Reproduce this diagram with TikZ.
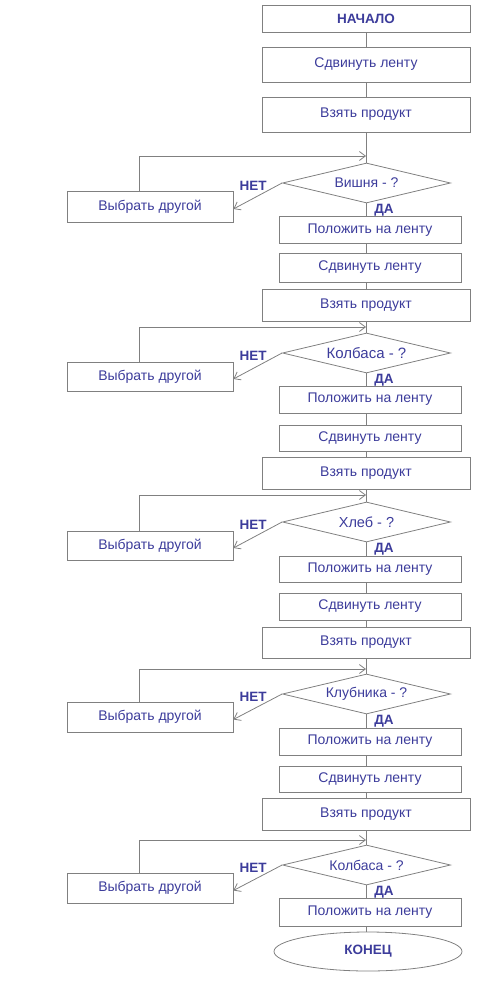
\documentclass[tikz,border=0pt]{standalone}
\usepackage{fontspec}
\setmainfont{Liberation Sans}
\usetikzlibrary{shapes.geometric,arrows.meta}
\definecolor{txtblue}{RGB}{60,60,155}
\definecolor{linegray}{RGB}{128,128,128}
\begin{document}
\begin{tikzpicture}[x=1pt,y=-1pt,
  every node/.style={text=txtblue, font=\fontsize{14}{16}\selectfont},
  bigbox/.style={draw=linegray, line width=0.8pt, minimum width=208pt, inner sep=0pt},
  smallbox/.style={draw=linegray, line width=0.8pt, minimum width=182pt, inner sep=0pt},
  chooser/.style={draw=linegray, line width=0.8pt, minimum width=166pt, inner sep=0pt},
  decision/.style={diamond, draw=linegray, line width=0.8pt, minimum width=168pt, minimum height=40pt, inner sep=0pt, aspect=4},
  conn/.style={draw=linegray, line width=0.8pt},
  arr/.style={conn, -{Straight Barb[length=6pt,width=9pt]}},
  lbl/.style={font=\bfseries\fontsize{13.5}{16}\selectfont},
]
\useasboundingbox (0,0) rectangle (503,1000);

\node[bigbox, minimum height=27pt, lbl] (start) at (366,18.5) {НАЧАЛО};
\node[bigbox, minimum height=35pt] (s1) at (366,64.5) {Сдвинуть ленту};
\node[bigbox, minimum height=35pt] (t1) at (366,114.5) {Взять продукт};
\node[decision] (d1) at (366.5,183) {Вишня - ?};
\node[chooser, minimum height=31pt] (n1) at (150,206.5) {Выбрать другой};
\node[smallbox, minimum height=27pt] (p1) at (370,230) {Положить на ленту};
\node[smallbox, minimum height=29pt] (s2) at (370,267.5) {Сдвинуть ленту};
\node[bigbox, minimum height=32pt] (t2) at (366,305) {Взять продукт};
\node[decision, font=\fontsize{15}{18}\selectfont] (d2) at (366.5,353) {Колбаса - ?};
\node[chooser, minimum height=29pt] (n2) at (150,376.5) {Выбрать другой};
\node[smallbox, minimum height=27pt] (p2) at (370,399.5) {Положить на ленту};
\node[smallbox, minimum height=26pt] (s3) at (370,438) {Сдвинуть ленту};
\node[bigbox, minimum height=32pt] (t3) at (366,473) {Взять продукт};
\node[decision, font=\fontsize{14.5}{17}\selectfont] (d3) at (366.5,522) {Хлеб - ?};
\node[chooser, minimum height=29pt] (n3) at (150,545.5) {Выбрать другой};
\node[smallbox, minimum height=26pt] (p3) at (370,569) {Положить на ленту};
\node[smallbox, minimum height=27pt] (s4) at (370,606.5) {Сдвинуть ленту};
\node[bigbox, minimum height=31pt] (t4) at (366,642.5) {Взять продукт};
\node[decision] (d4) at (366.5,694) {Клубника - ?};
\node[chooser, minimum height=30pt] (n4) at (150,717) {Выбрать другой};
\node[smallbox, minimum height=27pt] (p4) at (370,741.5) {Положить на ленту};
\node[smallbox, minimum height=26pt] (s5) at (370,779) {Сдвинуть ленту};
\node[bigbox, minimum height=32pt] (t5) at (366,814) {Взять продукт};
\node[decision] (d5) at (366.5,865) {Колбаса - ?};
\node[chooser, minimum height=30pt] (n5) at (150,888) {Выбрать другой};
\node[smallbox, minimum height=28pt] (p5) at (370,912) {Положить на ленту};
\node[ellipse, draw=linegray, line width=0.8pt, minimum width=188pt, minimum height=39pt, inner sep=0pt, lbl] (end) at (368,951.5) {КОНЕЦ};

% labels
\foreach \d in {d1,d2,d3,d4,d5}{
  \node[lbl] (net\d) at ([xshift=-29pt,yshift=-3pt]\d.west) {НЕТ};
  \node[lbl] (da\d) at ([xshift=17.5pt,yshift=-27pt]\d.center) {ДА};
}

% loop points
\coordinate (l1) at (366,156);
\coordinate (l2) at (366,327);
\coordinate (l3) at (366,495);
\coordinate (l4) at (366,669);
\coordinate (l5) at (366,840);

% main vertical connectors
\draw[conn] (start.south) -- (start |- s1.north);
\draw[conn] (s1.south) -- (start |- t1.north);
\draw[conn] (t1.south) -- (start |- d1.north);
\draw[conn] (start |- d1.south) -- (start |- p1.north);
\draw[conn] (p1.south -| start) -- (start |- s2.north);
\draw[conn] (s2.south -| start) -- (start |- t2.north);
\draw[conn] (t2.south) -- (start |- d2.north);
\draw[conn] (start |- d2.south) -- (start |- p2.north);
\draw[conn] (p2.south -| start) -- (start |- s3.north);
\draw[conn] (s3.south -| start) -- (start |- t3.north);
\draw[conn] (t3.south) -- (start |- d3.north);
\draw[conn] (start |- d3.south) -- (start |- p3.north);
\draw[conn] (p3.south -| start) -- (start |- s4.north);
\draw[conn] (s4.south -| start) -- (start |- t4.north);
\draw[conn] (t4.south) -- (start |- d4.north);
\draw[conn] (start |- d4.south) -- (start |- p4.north);
\draw[conn] (p4.south -| start) -- (start |- s5.north);
\draw[conn] (s5.south -| start) -- (start |- t5.north);
\draw[conn] (t5.south) -- (start |- d5.north);
\draw[conn] (start |- d5.south) -- (start |- p5.north);
\draw[conn] (p5.south -| start) -- (start |- end.north);

% no branches and loops back
\foreach \i in {1,...,5}{
  \draw[arr] (d\i.west) -- ([yshift=-2.5pt]n\i.east);
  \draw[arr] ([xshift=-11pt]n\i.north) |- (l\i);
}
\end{tikzpicture}
\end{document}
